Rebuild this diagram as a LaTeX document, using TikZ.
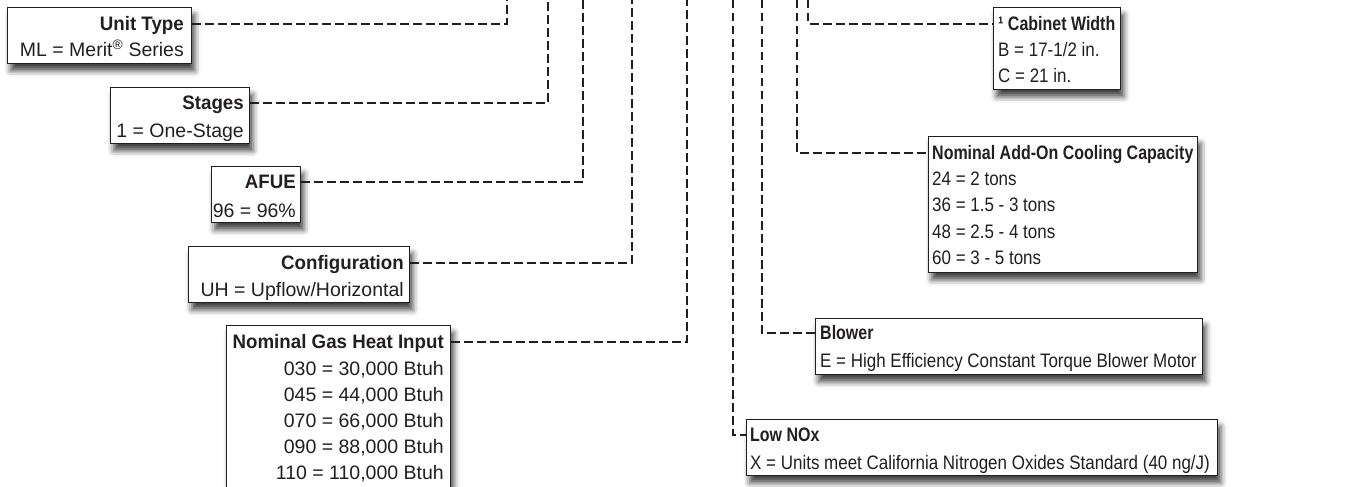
\documentclass[tikz,border=0pt]{standalone}
\usepackage{fontspec}
\setmainfont{Liberation Sans}[BoldFeatures={FakeStretch=0.96}]
\newfontfamily\condfont{Liberation Sans}[FakeStretch=0.87,BoldFeatures={FakeStretch=0.82}]
\usetikzlibrary{shadows.blur}
\definecolor{ink}{HTML}{231F20}
\newcommand\valtab[2]{\begin{tabular}[t]{@{}#1@{}}#2\end{tabular}}
\tikzset{
  box/.style={draw=ink, line width=1.3pt, fill=white, rectangle, inner sep=0pt, anchor=north west,
    blur shadow={shadow xshift=3pt, shadow yshift=-7pt, shadow blur radius=6pt, shadow opacity=75}},
  conn/.style={draw=ink, line width=2.7pt, dash pattern=on 8.5pt off 4.5pt},
  lhead/.style={anchor=east, inner sep=0pt, text height=13.5pt, text depth=0pt, text=ink,
    font=\fontsize{19.5}{27}\selectfont\bfseries},
  lval/.style={anchor=base east, inner sep=0pt, text=ink, font=\fontsize{19.5}{27}\selectfont},
  rhead/.style={anchor=west, inner sep=0pt, text height=13.5pt, text depth=0pt, text=ink,
    font=\condfont\fontsize{19.5}{27}\selectfont\bfseries},
  rval/.style={anchor=base west, inner sep=0pt, text=ink, font=\condfont\fontsize{19.5}{27}\selectfont},
}
\begin{document}
\begin{tikzpicture}[x=1pt,y=-1pt]
\useasboundingbox (0,0) rectangle (1353,487);
\clip (0,0) rectangle (1353,487);

% ---------- left boxes ----------
\node[box, minimum width=184pt, minimum height=56pt] (utbox) at (7,7) {};
\node[lhead] (uth) at (184,24) {Unit Type};
\node[lval] (utv) at (184,57) {ML = Merit\textsuperscript{®} Series};

\node[box, minimum width=139pt, minimum height=56pt] (stbox) at (110,87) {};
\node[lhead] (sth) at (244,103) {Stages};
\node[lval] (stv) at (244,137) {1 = One-Stage};

\node[box, minimum width=89pt, minimum height=56pt] (afbox) at (211,166) {};
\node[lhead] (afh) at (296,182) {AFUE};
\node[lval] (afv) at (296,217) {96 = 96\%};

\node[box, minimum width=221pt, minimum height=56pt] (cfbox) at (188,246) {};
\node[lhead] (cfh) at (404,263) {Configuration};
\node[lval] (cfv) at (404,296) {UH = Upflow/Horizontal};

\node[box, minimum width=224pt, minimum height=180pt] (gsbox) at (226,325) {};
\node[lhead] (gsh) at (444,342) {Nominal Gas Heat Input};
\node[lval, font=\fontsize{19.5}{26}\selectfont] (gsv) at (444,375)
  {\valtab{r}{030 = 30,000 Btuh\\045 = 44,000 Btuh\\070 = 66,000 Btuh\\090 = 88,000 Btuh\\110 = 110,000 Btuh}};

% ---------- right boxes ----------
\node[box, minimum width=127pt, minimum height=82pt] (cwbox) at (993,7) {};
\node[rhead] (cwh) at (998,24) {¹ Cabinet Width};
\node[rval, font=\condfont\fontsize{19.5}{26}\selectfont] (cwv) at (998,57)
  {\valtab{l}{B = 17-1/2 in.\\C = 21 in.}};

\node[box, minimum width=269pt, minimum height=136pt] (ccbox) at (928,136) {};
\node[rhead] (cch) at (932,153) {Nominal Add-On Cooling Capacity};
\node[rval, font=\condfont\fontsize{19.5}{26.5}\selectfont] (ccv) at (932,185)
  {\valtab{l}{24 = 2 tons\\36 = 1.5 - 3 tons\\48 = 2.5 - 4 tons\\60 = 3 - 5 tons}};

\node[box, minimum width=387pt, minimum height=56pt] (blbox) at (815,318) {};
\node[rhead] (blh) at (820,333) {Blower};
\node[rval] (blv) at (820,367) {E = High Efficiency Constant Torque Blower Motor};

\node[box, minimum width=471pt, minimum height=56pt] (nxbox) at (746,419) {};
\node[rhead] (nxh) at (750,435) {Low NOx};
\node[rval] (nxv) at (750,469) {X = Units meet California Nitrogen Oxides Standard (40 ng/J)};

% ---------- connector tops ----------
\coordinate (utc) at (507,0);
\coordinate (stc) at (548,0);
\coordinate (afc) at (583,0);
\coordinate (cfc) at (632,0);
\coordinate (gsc) at (687,0);
\coordinate (nxc) at (733,0);
\coordinate (blc) at (762,0);
\coordinate (ccc) at (797,0);
\coordinate (cwc) at (808,0);

% ---------- connectors ----------
\draw[conn] (utbox.east |- uth) -| (utc);
\draw[conn] (stbox.east |- sth) -| (stc);
\draw[conn] (afbox.east |- afh) -| (afc);
\draw[conn] (cfbox.east |- cfh) -| (cfc);
\draw[conn] (gsbox.east |- gsh) -| (gsc);
\draw[conn] (nxc) |- (nxbox.west |- nxh);
\draw[conn] (blc) |- (blbox.west |- blh);
\draw[conn] (ccc) |- (ccbox.west |- cch);
\draw[conn] (cwc) |- (cwbox.west |- cwh);
\end{tikzpicture}
\end{document}
